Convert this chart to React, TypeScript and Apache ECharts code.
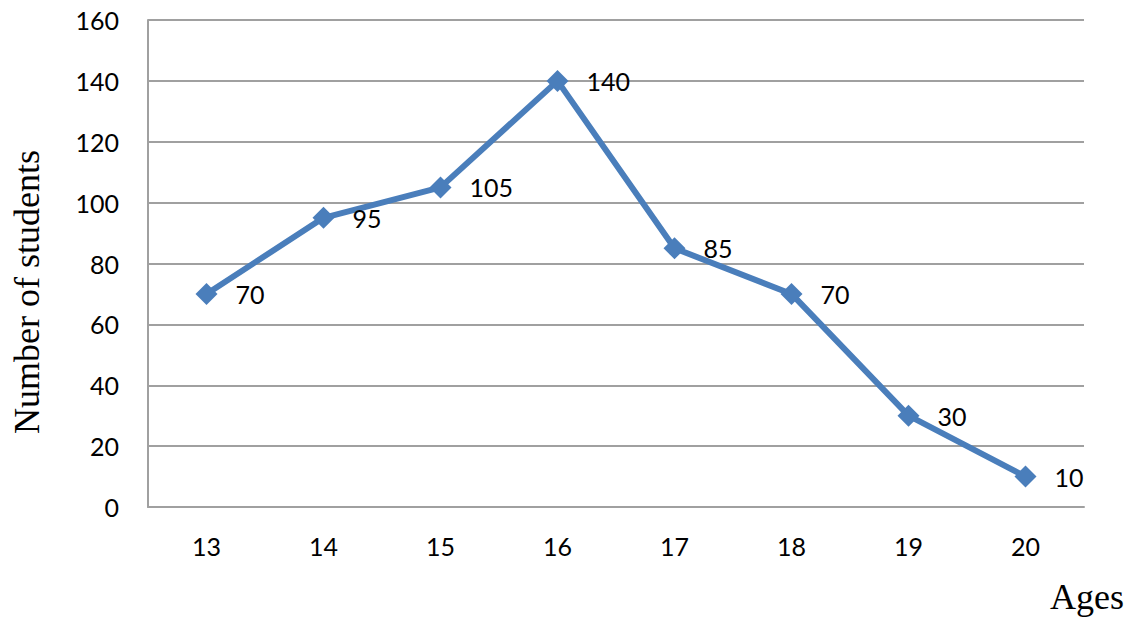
import React, { useEffect, useRef } from "react";
import * as echarts from "echarts";

const ages = ["13", "14", "15", "16", "17", "18", "19", "20"];
const students = [70, 95, 105, 140, 85, 70, 30, 10];
const yTicks = { min: 0, max: 160, interval: 20 };

export default function App() {
  const ref = useRef<HTMLDivElement>(null);
  useEffect(() => {
    const chart = echarts.init(ref.current!, null, { renderer: "svg" });
    const labelFont = "Lato, 'Open Sans', sans-serif";
    chart.setOption({
      animation: false,
      backgroundColor: "#ffffff",
      grid: { left: 148, top: 20, right: 45, bottom: 110 },
      xAxis: {
        type: "category",
        data: ages,
        boundaryGap: true,
        axisLine: { show: true, lineStyle: { color: "#a0a0a0", width: 2 } },
        axisTick: { show: false },
        axisLabel: { color: "#000", fontSize: 25, fontFamily: labelFont, margin: 26 },
      },
      yAxis: {
        type: "value",
        min: yTicks.min,
        max: yTicks.max,
        interval: yTicks.interval,
        axisLine: { show: true, lineStyle: { color: "#a0a0a0", width: 2 } },
        axisTick: { show: false },
        splitLine: { lineStyle: { color: "#a0a0a0", width: 2 } },
        axisLabel: { color: "#000", fontSize: 25, fontFamily: labelFont, margin: 29 },
      },
      series: [
        {
          type: "line",
          data: students,
          symbol: "diamond",
          symbolSize: 22,
          lineStyle: { color: "#4a7ebb", width: 6 },
          itemStyle: { color: "#4a7ebb" },
          label: {
            show: true,
            position: "right",
            distance: 18,
            color: "#000",
            fontSize: 25,
            fontFamily: labelFont,
          },
        },
      ],
      graphic: [
        {
          type: "text",
          x: 27,
          y: 292,
          rotation: Math.PI / 2,
          style: {
            text: "Number of students",
            font: "36px 'Liberation Serif', 'Times New Roman', serif",
            fill: "#000",
            align: "center",
            verticalAlign: "middle",
          },
        },
        {
          type: "text",
          x: 1087,
          y: 597,
          style: {
            text: "Ages",
            font: "36px 'Liberation Serif', 'Times New Roman', serif",
            fill: "#000",
            align: "center",
            verticalAlign: "middle",
          },
        },
      ],
    });
    return () => chart.dispose();
  }, []);
  return (
    <div
      ref={ref}
      style={{ position: "fixed", left: 0, top: 0, width: 1129, height: 617 }}
    />
  );
}
